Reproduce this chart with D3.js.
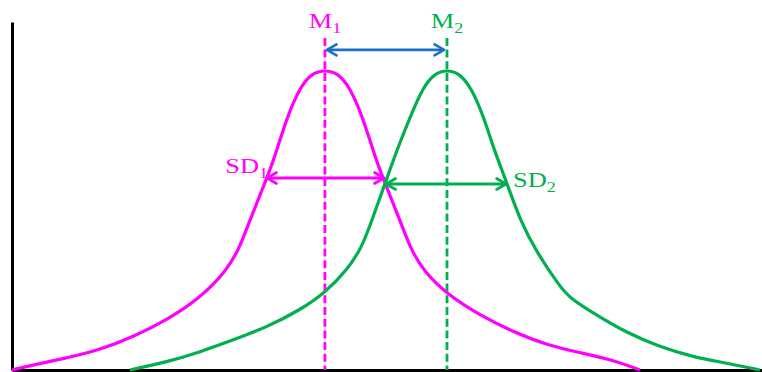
<!DOCTYPE html>
<html>
<head>
<meta charset="utf-8">
<script src="https://cdn.jsdelivr.net/npm/d3@7"></script>
<style>
  body { margin: 0; background: #fff; }
  svg { display: block; }
</style>
</head>
<body>
<div id="chart"></div>
<script>
// values (x: 0-250 units, y: 0-116 units)
var groups = ["1", "2"];
var colors = ["#ff00ff", "#00b050"];
var means = [104.3, 145];

var curve1 = [
  [0, 0], [7, 1.7], [18.3, 4], [29.3, 6.7], [40.3, 11], [51.7, 16.7], [62.7, 24],
  [71.7, 33.3], [76, 41], [79.3, 50], [85.3, 64.7], [88.3, 73.3], [91.7, 84.3],
  [96, 94.3], [100, 99], [104.3, 100], [108.6, 99], [112.6, 94.3], [116.9, 84.3],
  [120.3, 73.3], [123.3, 64.7], [129.3, 50], [132.6, 41], [136.9, 33.3], [145.3, 25],
  [156, 18.3], [167, 12.7], [178.3, 8.3], [189.7, 5.7], [200.3, 3.3], [209.3, 0]
];
var curve2 = [
  [39.3, 0], [51.7, 2.7], [62.7, 6], [73.7, 10], [85, 14.3], [96, 20], [104.3, 25.7],
  [111.7, 33.3], [116.7, 41], [120, 50], [125, 64], [128.3, 73.3], [132.7, 84.3],
  [137, 94.3], [141, 99], [145, 100], [149, 99], [153, 94.3], [157.3, 84.3],
  [160.7, 73.3], [165, 62.3], [169.3, 50], [175, 39], [182.7, 27.7], [186, 24],
  [193.7, 19], [205, 12.3], [216, 7.7], [227, 4.3], [238.3, 2.3], [249.3, 0]
];

// arrows: [x1, x2, y]
var meanArrow = [105, 144, 106.7];
var sdArrows = [[85, 124, 64], [124.7, 164.7, 62]];
var dashTop = 110.7;

var width = 762, height = 372;

var svg = d3.select("#chart")
  .append("svg")
  .attr("width", width)
  .attr("height", height);

var x = d3.scaleLinear().domain([0, 250]).range([12, 762]);
var y = d3.scaleLinear().domain([0, 116]).range([370, 22]);

// arrow heads (open chevrons)
var defs = svg.append("defs");
[["blueHead", "#1f6fc5"], ["head0", colors[0]], ["head1", colors[1]]].forEach(function(m){
  defs.append("marker")
    .attr("id", m[0])
    .attr("viewBox", "-11 -7 13 14")
    .attr("refX", 0)
    .attr("refY", 0)
    .attr("markerWidth", 13)
    .attr("markerHeight", 14)
    .attr("markerUnits", "userSpaceOnUse")
    .attr("orient", "auto-start-reverse")
    .append("path")
      .attr("d", "M-9.5,-5.5 L0,0 L-9.5,5.5")
      .attr("fill", "none")
      .attr("stroke", m[1])
      .attr("stroke-width", 2.6)
      .attr("stroke-linecap", "round")
      .attr("stroke-linejoin", "round");
});

// axes (no ticks, just the lines)
svg.append("g")
  .attr("transform", "translate(0," + y(0) + ")")
  .call(d3.axisBottom(x).ticks(0).tickSizeOuter(0))
  .select(".domain").attr("stroke", "#000").attr("stroke-width", 3);
svg.append("g")
  .attr("transform", "translate(" + x(0) + ",0)")
  .call(d3.axisLeft(y).ticks(0).tickSizeOuter(0))
  .select(".domain").attr("stroke", "#000").attr("stroke-width", 3);

// mean dashed lines
svg.selectAll("meanLines")
  .data(means)
  .enter()
  .append("line")
    .attr("x1", function(d){ return x(d) })
    .attr("x2", function(d){ return x(d) })
    .attr("y1", y(dashTop))
    .attr("y2", y(0))
    .attr("stroke", function(d, i){ return colors[i] })
    .attr("stroke-width", 2.8)
    .attr("stroke-dasharray", "8,3.7");

// the two curves, smoothed
var line = d3.line()
  .x(function(d){ return x(d[0]) })
  .y(function(d){ return y(d[1]) })
  .curve(d3.curveBasis);

svg.selectAll("curves")
  .data([curve1, curve2])
  .enter()
  .append("path")
    .attr("d", line)
    .attr("fill", "none")
    .attr("stroke", function(d, i){ return colors[i] })
    .attr("stroke-width", 3.2);

// SD arrows
svg.selectAll("sdArrows")
  .data(sdArrows)
  .enter()
  .append("line")
    .attr("x1", function(d){ return x(d[0]) })
    .attr("x2", function(d){ return x(d[1]) })
    .attr("y1", function(d){ return y(d[2]) })
    .attr("y2", function(d){ return y(d[2]) })
    .attr("stroke", function(d, i){ return colors[i] })
    .attr("stroke-width", 2.8)
    .attr("marker-start", function(d, i){ return "url(#head" + i + ")" })
    .attr("marker-end", function(d, i){ return "url(#head" + i + ")" });

// arrow between the means
svg.append("line")
  .attr("x1", x(meanArrow[0]))
  .attr("x2", x(meanArrow[1]))
  .attr("y1", y(meanArrow[2]))
  .attr("y2", y(meanArrow[2]))
  .attr("stroke", "#1f6fc5")
  .attr("stroke-width", 2.8)
  .attr("marker-start", "url(#blueHead)")
  .attr("marker-end", "url(#blueHead)");

// labels with subscripts (the font is a bit wide in the original)
function label(txt, sub, px, py, anchor, color){
  var t = svg.append("text")
    .attr("transform", "translate(" + px + "," + py + ") scale(1.2,1)")
    .attr("text-anchor", anchor)
    .style("font-family", "'Liberation Serif', 'DejaVu Serif', serif")
    .style("font-size", "22px")
    .attr("fill", color);
  t.append("tspan").text(txt);
  t.append("tspan").text(sub).attr("dy", 5).style("font-size", "15px");
}
label("M", groups[0], x(means[0]), y(113.9), "middle", colors[0]);
label("M", groups[1], x(means[1]), y(113.9), "middle", colors[1]);
label("SD", groups[0], x(sdArrows[0][0]) + 1, y(65.7), "end", colors[0]);
label("SD", groups[1], x(sdArrows[1][1]) + 7, y(61), "start", colors[1]);
</script>
</body>
</html>
